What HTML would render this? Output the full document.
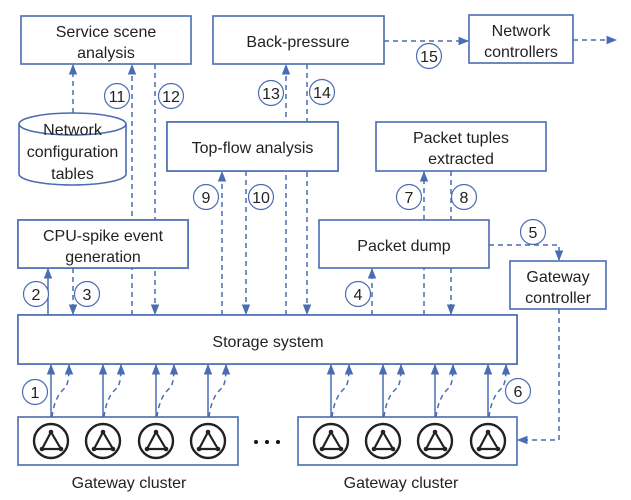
<!DOCTYPE html>
<html><head><meta charset="utf-8"><style>
html,body{margin:0;padding:0;background:#fff;}
svg{display:block;}
text{font-family:"Liberation Sans",sans-serif;font-size:16px;fill:#222;text-anchor:middle;}
.n text{font-size:16px;}
</style></head><body>
<svg width="631" height="500" viewBox="0 0 631 500" xmlns="http://www.w3.org/2000/svg">
<defs>
<marker id="a" viewBox="0 0 10 10" refX="9" refY="5" markerWidth="7" markerHeight="7" orient="auto"><path d="M0,1 L10,5 L0,9 z" fill="#4a6cb3"/></marker>
</defs>
<g fill="none" stroke="#4a6cb3" stroke-width="1.6">
<rect x="21" y="16" width="170" height="48"/>
<rect x="213" y="16" width="171" height="48"/>
<rect x="469" y="15" width="104" height="48"/>
<rect x="167" y="122" width="171" height="49"/>
<rect x="376" y="122" width="170" height="49"/>
<rect x="18" y="220" width="170" height="48"/>
<rect x="319" y="220" width="170" height="48"/>
<rect x="510" y="261" width="96" height="48"/>
<rect x="18" y="315" width="499" height="49"/>
<rect x="18" y="417" width="220" height="48"/>
<rect x="298" y="417" width="219" height="48"/>
<path d="M19,124 L19,174 A53.5,11 0 0 0 126,174 L126,124" fill="#fff"/>
<ellipse cx="72.5" cy="124" rx="53.5" ry="11"/>
</g>
<g fill="none" stroke="#4a6cb3" stroke-width="1.5" stroke-dasharray="5,4">
<path d="M384,41 H468" marker-end="url(#a)"/>
<path d="M573,40 H616" marker-end="url(#a)"/>
<path d="M73,113 V65" marker-end="url(#a)"/>
<path d="M132,315 V65" marker-end="url(#a)"/>
<path d="M155,64 V314" marker-end="url(#a)"/>
<path d="M73,268 V314" marker-end="url(#a)"/>
<path d="M286,315 V65" marker-end="url(#a)"/>
<path d="M307,64 V314" marker-end="url(#a)"/>
<path d="M222,315 V172" marker-end="url(#a)"/>
<path d="M246,171 V314" marker-end="url(#a)"/>
<path d="M372,315 V269" marker-end="url(#a)"/>
<path d="M424,315 V268"/>
<path d="M451,268 V314" marker-end="url(#a)"/>
<path d="M424,220 V172" marker-end="url(#a)"/>
<path d="M451,171 V220"/>
<path d="M489,245 H559 V260" marker-end="url(#a)"/>
<path d="M559,309 V440 H518" marker-end="url(#a)"/>
</g>
<g fill="#fff" stroke="#4a6cb3" stroke-width="1.6">
<rect x="18" y="220" width="170" height="48"/>
<rect x="167" y="122" width="171" height="49"/>
<rect x="18" y="315" width="499" height="49"/>
</g>
<g fill="none" stroke="#4a6cb3" stroke-width="1.5">
<path d="M48,315 V269" marker-end="url(#a)"/>
</g>
<g id="gw" fill="none" stroke="#4a6cb3" stroke-width="1.5">
<path d="M51,417 V365" marker-end="url(#a)"/>
<path d="M52,417 C54,400 60,392 65,388 C68,384 69,378 69,365" stroke-dasharray="5,4" marker-end="url(#a)"/>
</g>
<use href="#gw" x="52"/><use href="#gw" x="105"/><use href="#gw" x="157"/>
<use href="#gw" x="280"/><use href="#gw" x="332"/><use href="#gw" x="384"/><use href="#gw" x="437"/>
<g id="ic" fill="none" stroke="#222" stroke-width="2.4">
<circle cx="51" cy="441" r="17"/>
<path d="M51,432 L42,449 L61,449 Z" stroke-width="2.2"/>
<g fill="#222" stroke="none"><circle cx="51" cy="432" r="2.3"/><circle cx="42" cy="449" r="2.3"/><circle cx="61" cy="449" r="2.3"/></g>
</g>
<use href="#ic" x="52"/><use href="#ic" x="105"/><use href="#ic" x="157"/>
<use href="#ic" x="280"/><use href="#ic" x="332"/><use href="#ic" x="384"/><use href="#ic" x="437"/>
<g fill="#111"><circle cx="256" cy="442" r="2"/><circle cx="267" cy="442" r="2"/><circle cx="278" cy="442" r="2"/></g>
<g fill="#fff" stroke="#4a6cb3" stroke-width="1.2">
<circle cx="35" cy="392" r="12.5"/><circle cx="36" cy="294" r="12.5"/><circle cx="87" cy="294" r="12.5"/>
<circle cx="358" cy="294" r="12.5"/><circle cx="533" cy="232" r="12.5"/><circle cx="518" cy="391" r="12.5"/>
<circle cx="409" cy="197" r="12.5"/><circle cx="464" cy="197" r="12.5"/>
<circle cx="206" cy="197" r="12.5"/><circle cx="261" cy="197" r="12.5"/>
<circle cx="117" cy="96" r="12.5"/><circle cx="171" cy="96" r="12.5"/>
<circle cx="271" cy="93" r="12.5"/><circle cx="322" cy="92" r="12.5"/>
<circle cx="429" cy="56" r="12.5"/>
</g>
<g class="n">
<text x="35" y="398">1</text><text x="36" y="300">2</text><text x="87" y="300">3</text>
<text x="358" y="300">4</text><text x="533" y="238">5</text><text x="518" y="397">6</text>
<text x="409" y="203">7</text><text x="464" y="203">8</text>
<text x="206" y="203">9</text><text x="261" y="203">10</text>
<text x="117" y="102">11</text><text x="171" y="102">12</text>
<text x="271" y="99">13</text><text x="322" y="98">14</text>
<text x="429" y="62">15</text>
</g>
<text x="106" y="37">Service scene</text>
<text x="106" y="58">analysis</text>
<text x="298" y="47">Back-pressure</text>
<text x="521" y="36">Network</text>
<text x="521" y="57">controllers</text>
<text x="72.5" y="135">Network</text>
<text x="72.5" y="157">configuration</text>
<text x="72.5" y="179">tables</text>
<text x="252.5" y="153">Top-flow analysis</text>
<text x="461" y="143">Packet tuples</text>
<text x="461" y="164">extracted</text>
<text x="103" y="241">CPU-spike event</text>
<text x="103" y="262">generation</text>
<text x="404" y="251">Packet dump</text>
<text x="558" y="282">Gateway</text>
<text x="558" y="303">controller</text>
<text x="268" y="347">Storage system</text>
<text x="129" y="488">Gateway cluster</text>
<text x="401" y="488">Gateway cluster</text>
</svg>
</body></html>
